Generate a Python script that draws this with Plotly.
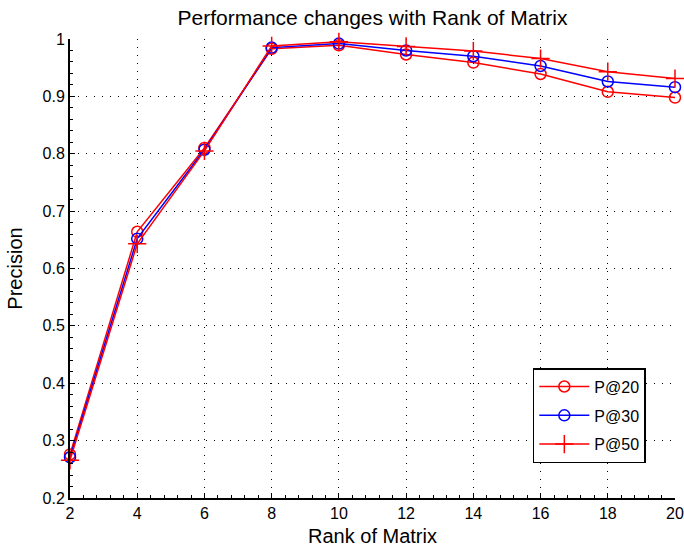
import plotly.graph_objects as go

rank = [2, 4, 6, 8, 10, 12, 14, 16, 18, 20]
p20 = [0.276, 0.664, 0.810, 0.983, 0.989, 0.973, 0.959, 0.939, 0.908, 0.898]
p30 = [0.271, 0.652, 0.807, 0.985, 0.992, 0.980, 0.970, 0.953, 0.926, 0.916]
p50 = [0.266, 0.643, 0.805, 0.988, 0.995, 0.987, 0.979, 0.966, 0.943, 0.931]

x_ticks = [2, 4, 6, 8, 10, 12, 14, 16, 18, 20]
y_ticks = [0.2, 0.3, 0.4, 0.5, 0.6, 0.7, 0.8, 0.9, 1.0]
y_tick_text = ["0.2", "0.3", "0.4", "0.5", "0.6", "0.7", "0.8", "0.9", "1"]

FONT = "Liberation Sans, Arial, sans-serif"

fig = go.Figure()
series = [
    ("P@20", p20, "red", "circle-open", 11),
    ("P@30", p30, "blue", "circle-open", 11),
    ("P@50", p50, "red", "cross-thin-open", 13),
]
for name, vals, color, sym, size in series:
    fig.add_trace(go.Scatter(
        x=rank, y=vals, name=name, mode="lines+markers",
        legendgroup=name,
        line=dict(color=color, width=1.5),
        marker=dict(symbol=sym, size=size, color=color,
                    line=dict(color=color, width=1.5)),
        cliponaxis=False,
    ))

axis_common = dict(
    showline=True, linecolor="black", linewidth=2, mirror=False,
    ticks="inside", ticklen=5, tickcolor="black", tickwidth=1,
    showgrid=True, gridcolor="black", gridwidth=1.3, griddash="1px,7px",
    zeroline=False, ticklabeloverflow="allow", automargin=False,
    tickfont=dict(family=FONT, size=16, color="black"),
    title_font=dict(family=FONT, size=20, color="black"),
)

fig.update_xaxes(range=[2, 20], tickvals=x_ticks, title_text="Rank of Matrix",
                 title_standoff=8,
                 minor=dict(ticks="inside", ticklen=3, tickcolor="black",
                            tick0=2, dtick=0.4, showgrid=False),
                 **axis_common)
fig.update_yaxes(range=[0.2, 1.0], tickvals=y_ticks, ticktext=y_tick_text,
                 title_text="Precision", title_standoff=15,
                 minor=dict(ticks="inside", ticklen=3, tickcolor="black",
                            tick0=0.2, dtick=0.02, showgrid=False),
                 **axis_common)

fig.update_layout(
    width=684, height=554,
    margin=dict(l=70, r=9, t=39, b=56, autoexpand=False),
    paper_bgcolor="white", plot_bgcolor="white",
    title=dict(text="Performance changes with Rank of Matrix",
               x=0.5, xref="paper", y=0.969, yref="container", yanchor="middle",
               font=dict(family=FONT, size=21, color="black")),
    legend=dict(x=0.765, y=0.283, xanchor="left", yanchor="top",
                bordercolor="black", borderwidth=1.5, bgcolor="white",
                font=dict(family=FONT, size=16, color="black"),
                itemwidth=50, tracegroupgap=5),
    showlegend=True,
)

fig.write_html("out.html")
